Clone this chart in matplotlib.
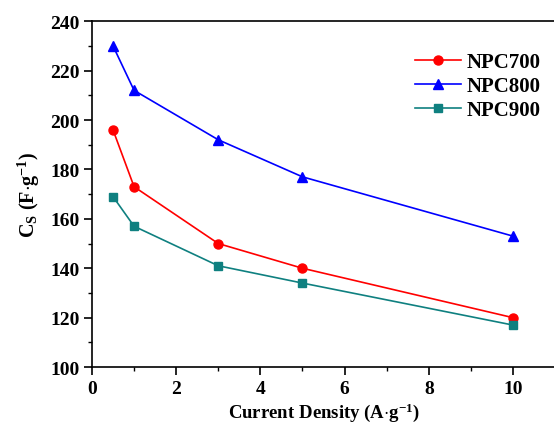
import matplotlib
matplotlib.use('Agg')
import matplotlib.pyplot as plt
from matplotlib.ticker import MultipleLocator

plt.rcParams['font.family'] = 'Liberation Serif'
plt.rcParams['font.weight'] = 'bold'
plt.rcParams['mathtext.fontset'] = 'custom'
plt.rcParams['mathtext.rm'] = 'Liberation Serif'
plt.rcParams['mathtext.bf'] = 'Liberation Serif:bold'
plt.rcParams['mathtext.it'] = 'Liberation Serif:italic'

# data
current = [0.5, 1, 3, 5, 10]
npc700 = [196, 173, 150, 140, 120]
npc800 = [230, 212, 192, 177, 153]
npc900 = [169, 157, 141, 134, 117]

fig = plt.figure(figsize=(5.54, 4.27), dpi=100)
ax = fig.add_axes([0.166, 0.138, 0.836, 0.810])

ax.plot(current, npc700, color='#ff0000', marker='o', markersize=6.5, lw=1.2, label='NPC700')
ax.plot(current, npc800, color='#0000ff', marker='^', markersize=6.5, lw=1.2, label='NPC800')
ax.plot(current, npc900, color='#0f8080', marker='s', markersize=5.5, lw=1.2, label='NPC900')

ax.set_xlim(0, 11)
ax.set_ylim(100, 240)
ax.xaxis.set_major_locator(MultipleLocator(2))
ax.xaxis.set_minor_locator(MultipleLocator(1))
ax.yaxis.set_major_locator(MultipleLocator(20))
ax.yaxis.set_minor_locator(MultipleLocator(10))
ax.tick_params(which='major', direction='out', length=6, width=1.2, labelsize=14, pad=3)
ax.tick_params(which='minor', direction='out', length=3, width=1.0)
for s in ax.spines.values():
    s.set_linewidth(1.2)

ax.set_xlabel(r'$\mathbf{Current\ Density}$ $\mathrm{(A{\cdot}g^{-1})}$', fontsize=13.5, labelpad=3)
ax.set_ylabel(r'$\mathbf{C_S}$ $\mathrm{(F{\cdot}g^{-1})}$', fontsize=14.5, labelpad=6)

ax.legend(loc='upper right', bbox_to_anchor=(1.01, 0.965), frameon=False,
          prop={'size': 15, 'weight': 'bold'},
          handlelength=2.2, handletextpad=0.3, labelspacing=0.2)

fig.savefig('out.png', dpi=100)
